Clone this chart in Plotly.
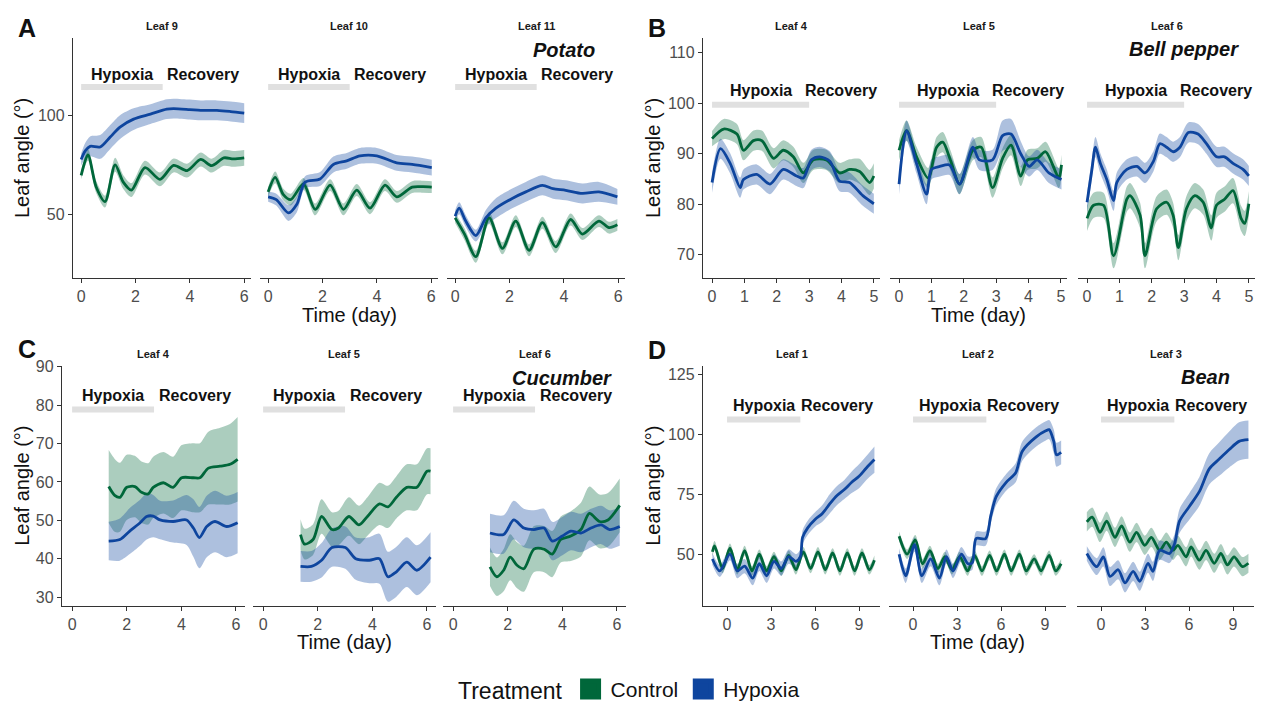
import plotly.graph_objects as go

W, H = 1261, 710

# ---------------- data ----------------
treatments = ["Control", "Hypoxia"]
group_letters = ["A", "B", "C", "D"]
species = ["Potato", "Bell pepper", "Cucumber", "Bean"]
leaf_names = [["Leaf 9", "Leaf 10", "Leaf 11"],
              ["Leaf 4", "Leaf 5", "Leaf 6"],
              ["Leaf 4", "Leaf 5", "Leaf 6"],
              ["Leaf 1", "Leaf 2", "Leaf 3"]]
hypoxia_end = [3, 3, 3, 5]
recovery_end = [6, 5, 6, 10]
x_ticks = [[0, 2, 4, 6], [0, 1, 2, 3, 4, 5], [0, 2, 4, 6], [0, 3, 6, 9]]
y_ticks = [[50, 100], [70, 80, 90, 100, 110], [30, 40, 50, 60, 70, 80, 90], [50, 75, 100, 125]]

# Potato
a1_ctrl_x = [0, 0.25, 0.55, 0.88, 1.25, 1.55, 1.85, 2.35, 2.9, 3.4, 3.9, 4.4, 4.8, 5.25, 5.6, 6.0]
a1_ctrl_y = [69.7, 80, 64, 56.5, 75, 66.3, 62.3, 73.6, 67.7, 74.7, 72.1, 77.7, 74.6, 78.5, 78, 78.5]
a1_ctrl_sd = [2, 3, 3, 3, 3.5, 3.5, 3.5, 3.5, 3.5, 3.5, 3.5, 3.5, 3.5, 4, 4, 4]
a1_hyp_x = [0, 0.15, 0.33, 0.7, 1.07, 1.43, 1.93, 2.55, 3.15, 3.4, 4.0, 4.4, 5.0, 5.5, 6.0]
a1_hyp_y = [77.7, 82, 84.3, 84, 89, 94, 98, 100.5, 103, 103.3, 102.8, 102.4, 102.4, 101.8, 101]
a1_hyp_sd = [3, 4, 5, 6, 6, 6, 5.5, 5, 5, 5, 5, 5, 5, 5, 5]

a2_ctrl_x = [0, 0.26, 0.56, 0.83, 1.3, 1.73, 2.28, 2.77, 3.26, 3.75, 4.3, 4.73, 5.3, 5.7, 6.02]
a2_ctrl_y = [61.4, 68.7, 60, 57.5, 65.4, 52.6, 64.8, 52.6, 62.3, 53.2, 64.8, 58.9, 63.8, 64, 63.8]
a2_ctrl_sd = [2.5, 3, 3, 3, 3, 3, 3, 3, 3, 3, 3, 3, 3, 3, 3]
a2_hyp_x = [0, 0.3, 0.75, 1.05, 1.36, 1.91, 2.4, 2.89, 3.38, 4.0, 4.73, 5.3, 6.02]
a2_hyp_y = [58.9, 57.5, 50.8, 55, 66.3, 67.9, 75.2, 77, 79.5, 79.5, 76, 75.2, 73.6]
a2_hyp_sd = [2.5, 3, 4, 4, 3, 3.5, 4, 4, 4, 4, 4, 4, 4]

a3_ctrl_x = [0, 0.35, 0.76, 1.25, 1.74, 2.23, 2.72, 3.21, 3.7, 4.25, 4.68, 5.29, 5.66, 5.97]
a3_ctrl_y = [48.3, 40, 28.8, 48.3, 33, 46.7, 32, 45.9, 33.7, 47.5, 40.2, 46.7, 43.4, 44.8]
a3_ctrl_sd = [2.5, 3, 3, 3, 3, 3, 3, 3, 3, 3, 3, 3, 3, 3]
a3_hyp_x = [0, 0.15, 0.39, 0.76, 1.13, 1.5, 2.1, 2.6, 3.21, 3.6, 4.07, 4.68, 5.29, 5.97]
a3_hyp_y = [49.2, 53.2, 46.7, 39.4, 48.3, 53.2, 58.1, 61.4, 64.7, 63, 62.2, 60.6, 61.4, 58.9]
a3_hyp_sd = [3, 3, 3, 3, 4, 5, 5, 5, 5, 5, 5, 5, 5, 4]

# Bell pepper
b1_ctrl_x = [0, 0.36, 0.77, 0.97, 1.28, 1.54, 1.9, 2.2, 2.51, 2.82, 3.13, 3.53, 3.94, 4.25, 4.56, 4.87, 5.0]
b1_ctrl_y = [93, 94.9, 93.9, 90.7, 92.6, 92.6, 89.1, 90.7, 89.4, 86.2, 88.8, 88.8, 86.2, 86.9, 86.5, 84.3, 85.6]
b1_ctrl_sd = [1.5, 2, 2, 2, 2, 2, 2, 2, 2, 2, 2, 2, 2, 2, 2.5, 2.5, 2.5]
b1_hyp_x = [0, 0.26, 0.56, 0.87, 0.97, 1.38, 1.79, 2.2, 2.61, 2.82, 3.07, 3.33, 3.64, 3.94, 4.25, 4.66, 5.0]
b1_hyp_y = [84.3, 91, 88.1, 83.3, 84.9, 85.9, 84, 86.9, 85.6, 85.2, 88.8, 89.4, 88.5, 84.6, 84.3, 81.7, 80.1]
b1_hyp_sd = [2, 2, 2, 2, 2, 2, 2, 2, 2, 2, 2, 2, 2, 2, 2, 2, 2]

b2_ctrl_x = [0, 0.23, 0.54, 0.9, 1.16, 1.35, 1.6, 1.87, 2.28, 2.54, 2.89, 3.2, 3.46, 3.76, 3.97, 4.27, 4.53, 4.94, 5.02]
b2_ctrl_y = [90.7, 94.6, 89.4, 85.2, 91.3, 92.3, 88.5, 84, 90.7, 91.3, 83.3, 89.1, 91.7, 85.6, 88.8, 89.1, 90.4, 85.2, 87.8]
b2_ctrl_sd = [2, 2, 2, 2, 2, 2, 2, 2, 2, 2, 2, 2, 2, 2, 2, 2, 2, 2, 2]
b2_hyp_x = [0, 0.23, 0.54, 0.85, 1.0, 1.26, 1.56, 1.87, 2.28, 2.48, 2.89, 3.2, 3.46, 3.76, 4.02, 4.27, 4.63, 5.02]
b2_hyp_y = [84, 94.6, 88.1, 82, 86.9, 87.5, 87.8, 84, 91.3, 88.8, 88.8, 93.6, 93.9, 90, 87.5, 88.8, 86.2, 84.9]
b2_hyp_sd = [2, 2, 2, 2, 2, 2, 2, 2, 2, 2, 2, 3, 3, 2.5, 2, 2, 2, 2]

b3_ctrl_x = [0, 0.2, 0.51, 0.82, 1.23, 1.33, 1.64, 1.79, 2.15, 2.46, 2.66, 2.82, 3.07, 3.33, 3.59, 3.84, 4.0, 4.25, 4.51, 4.76, 4.87, 5.0]
b3_ctrl_y = [77.2, 79.8, 79.8, 69.8, 81, 81.7, 77.8, 69.8, 79.1, 80.4, 77.8, 71.4, 79.1, 81.7, 80.4, 75.3, 79.8, 81, 82.7, 77.2, 76.2, 80.1]
b3_ctrl_sd = [2.5] * 22
b3_hyp_x = [0, 0.15, 0.26, 0.41, 0.61, 0.82, 0.92, 1.23, 1.54, 1.79, 2.05, 2.25, 2.46, 2.66, 2.87, 3.13, 3.43, 3.69, 4.0, 4.25, 4.51, 4.82, 5.0]
b3_hyp_y = [80.4, 86.9, 91.3, 88.1, 84.9, 80.7, 84.3, 86.9, 87.5, 86.2, 88.5, 92, 91.3, 90.4, 91.3, 94.2, 93.9, 92, 89.4, 89.4, 88.1, 86.9, 85.6]
b3_hyp_sd = [2] * 23

# Cucumber
c1_ctrl_x = [1.34, 1.56, 1.75, 2.0, 2.3, 2.54, 2.79, 2.97, 3.34, 3.7, 4.01, 4.44, 4.68, 4.99, 5.42, 5.78, 6.06]
c1_ctrl_y = [58.8, 56.5, 56, 58.6, 58.8, 57.3, 56.9, 58.6, 59.8, 58.6, 61.1, 61.1, 61.1, 63.6, 64.1, 64.6, 65.9]
c1_ctrl_sd = [9.5, 9.5, 9, 8.5, 8, 8, 8, 8, 8, 8, 8.5, 9, 9, 9.5, 10, 10.5, 11]
c1_hyp_x = [1.34, 1.75, 2.11, 2.48, 2.73, 2.97, 3.22, 3.7, 4.19, 4.44, 4.66, 4.93, 5.23, 5.66, 6.06]
c1_hyp_y = [44.6, 45, 47.2, 49.3, 51, 51.1, 50.1, 49.7, 50.1, 48, 45.5, 48.4, 49.7, 48.4, 49.4]
c1_hyp_sd = [5, 5.5, 6, 6, 6, 5.5, 5, 5.5, 6.5, 7.5, 8, 8, 8, 8, 8]

c2_ctrl_x = [1.37, 1.52, 1.83, 2.14, 2.52, 2.76, 3.14, 3.51, 3.82, 4.26, 4.57, 4.88, 5.26, 5.63, 6.0, 6.13]
c2_ctrl_y = [46.3, 43.8, 45, 51, 47.6, 48, 51, 48.8, 51, 54.3, 53.5, 56, 58.6, 58.6, 62.8, 62.8]
c2_ctrl_sd = [4, 4, 4, 4.5, 4.5, 4.5, 5, 5, 5, 5.5, 5.5, 5.5, 6, 6, 6, 6]
c2_hyp_x = [1.37, 1.77, 2.14, 2.52, 3.01, 3.39, 3.89, 4.26, 4.57, 4.88, 5.26, 5.63, 6.13]
c2_hyp_y = [38, 38, 39.6, 42.9, 42.9, 40, 39.6, 40, 35.3, 36.6, 39.1, 37, 40.4]
c2_hyp_sd = [4, 4, 4.5, 5, 5.5, 5.5, 6, 6.5, 6.5, 6.5, 6.5, 6.5, 6.5]

c3_ctrl_x = [1.35, 1.6, 1.85, 2.09, 2.34, 2.59, 2.96, 3.33, 3.63, 3.94, 4.31, 4.68, 4.99, 5.36, 5.67, 6.1]
c3_ctrl_y = [37.9, 35.3, 37, 40.4, 38.3, 37.4, 42.5, 42.5, 41.2, 45, 45.9, 47.6, 51.8, 49.7, 50.1, 53.9]
c3_ctrl_sd = [5, 5, 5.5, 6, 6, 6, 6, 6, 6, 6, 6.5, 7, 7, 7, 7, 7]
c3_hyp_x = [1.35, 1.85, 2.22, 2.59, 2.96, 3.33, 3.63, 4.0, 4.31, 4.68, 5.05, 5.42, 5.73, 6.1]
c3_hyp_y = [46.7, 46.3, 50.1, 48, 47.6, 48, 44.6, 45.9, 47.2, 46.7, 48, 48.8, 47.6, 48.4]
c3_hyp_sd = [5] * 14

# Bean
d1_ctrl_x = [-1.0, -0.85, -0.3, 0.2, 0.7, 1.2, 1.7, 2.2, 2.7, 3.2, 3.7, 4.2, 4.7, 5.2, 5.7, 6.2, 6.7, 7.2, 7.7, 8.2, 8.7, 9.2, 9.7, 10.05]
d1_ctrl_y = [51, 53.5, 44, 52.5, 43.5, 51.5, 43, 50, 43, 49, 43, 49.5, 43.5, 51, 44, 51, 43.5, 50.5, 43, 50.5, 43, 50.5, 43.5, 47.5]
d1_ctrl_sd = [2] * 24
d1_hyp_x = [-1.0, -0.5, 0.2, 0.7, 1.2, 1.75, 2.2, 2.7, 3.2, 3.7, 4.2, 4.7, 5.0, 5.15, 5.5, 6.0, 6.5, 7.0, 7.5, 8.0, 8.5, 9.0, 9.5, 10.05]
d1_hyp_y = [48, 43, 50, 43, 45, 40, 46, 41, 47, 44, 49, 47, 49, 57, 61, 64.5, 67, 71, 74.5, 77, 80, 82.5, 86, 89.5]
d1_hyp_sd = [2.5, 2.5, 2.5, 3, 3, 3, 3, 3, 3, 3, 3, 3, 3, 3, 3, 3, 3.5, 4, 4, 4, 4.5, 5, 5, 5.5]

d2_ctrl_x = [-0.95, -0.4, 0.15, 0.65, 1.15, 1.7, 2.17, 2.65, 3.18, 3.72, 4.2, 4.7, 5.22, 5.7, 6.23, 6.7, 7.25, 7.72, 8.26, 8.73, 9.28, 9.73, 10.1]
d2_ctrl_y = [57.5, 50, 56, 46, 51.5, 44, 49, 43.5, 49, 43, 49.5, 43, 49.5, 43, 50, 43, 50, 43, 48, 43, 49.5, 43, 46]
d2_ctrl_sd = [2] * 23
d2_hyp_x = [-0.95, -0.5, 0.1, 0.6, 1.2, 1.8, 2.28, 2.73, 3.3, 3.75, 4.05, 4.3, 4.95, 5.3, 5.67, 6.35, 7.0, 7.45, 8.4, 9.05, 9.28, 9.6, 9.78, 10.1]
d2_hyp_y = [50, 41, 54, 41, 48, 40, 49, 43, 50, 46, 46.5, 56.5, 56.5, 66, 74, 80, 84, 93, 99, 101.5, 102, 97, 91.5, 92.5]
d2_hyp_sd = [2.5, 3, 3, 3, 3, 3, 3, 3, 3, 3, 3, 3, 3, 3, 3.5, 3.5, 4, 4, 4, 4, 4, 5, 5, 5]

d3_ctrl_x = [-0.97, -0.6, -0.07, 0.38, 0.95, 1.4, 1.96, 2.42, 2.98, 3.43, 4.0, 4.45, 4.9, 5.24, 5.8, 6.14, 6.7, 7.16, 7.72, 8.17, 8.62, 9.07, 9.64, 10.05]
d3_ctrl_y = [63.5, 65.5, 59.1, 63.8, 57, 61.8, 55, 59.1, 53.7, 57, 51.6, 55, 51.6, 53.7, 48.9, 53, 47.5, 51.6, 46.2, 50.3, 45.5, 48.9, 44.8, 46.2]
d3_ctrl_sd = [4] * 24
d3_hyp_x = [-0.97, -0.3, 0.16, 0.61, 1.17, 1.63, 2.19, 2.64, 3.2, 3.54, 4.0, 4.67, 5.01, 5.35, 6.03, 6.7, 7.38, 8.06, 8.74, 9.41, 10.05]
d3_hyp_y = [50.3, 44.8, 48.9, 40.7, 43.5, 38, 42.8, 38.7, 46.2, 42.8, 51.6, 50.3, 54.3, 63.8, 70, 76.1, 85.6, 89.7, 93.7, 97.1, 97.8]
d3_hyp_sd = [3, 3.5, 4, 4, 4, 4, 4, 4, 4, 4, 4, 4, 4, 5, 5.5, 6, 6.5, 7, 7.5, 8, 8]

panel_data = [
    [(a1_ctrl_x, a1_ctrl_y, a1_ctrl_sd, a1_hyp_x, a1_hyp_y, a1_hyp_sd),
     (a2_ctrl_x, a2_ctrl_y, a2_ctrl_sd, a2_hyp_x, a2_hyp_y, a2_hyp_sd),
     (a3_ctrl_x, a3_ctrl_y, a3_ctrl_sd, a3_hyp_x, a3_hyp_y, a3_hyp_sd)],
    [(b1_ctrl_x, b1_ctrl_y, b1_ctrl_sd, b1_hyp_x, b1_hyp_y, b1_hyp_sd),
     (b2_ctrl_x, b2_ctrl_y, b2_ctrl_sd, b2_hyp_x, b2_hyp_y, b2_hyp_sd),
     (b3_ctrl_x, b3_ctrl_y, b3_ctrl_sd, b3_hyp_x, b3_hyp_y, b3_hyp_sd)],
    [(c1_ctrl_x, c1_ctrl_y, c1_ctrl_sd, c1_hyp_x, c1_hyp_y, c1_hyp_sd),
     (c2_ctrl_x, c2_ctrl_y, c2_ctrl_sd, c2_hyp_x, c2_hyp_y, c2_hyp_sd),
     (c3_ctrl_x, c3_ctrl_y, c3_ctrl_sd, c3_hyp_x, c3_hyp_y, c3_hyp_sd)],
    [(d1_ctrl_x, d1_ctrl_y, d1_ctrl_sd, d1_hyp_x, d1_hyp_y, d1_hyp_sd),
     (d2_ctrl_x, d2_ctrl_y, d2_ctrl_sd, d2_hyp_x, d2_hyp_y, d2_hyp_sd),
     (d3_ctrl_x, d3_ctrl_y, d3_ctrl_sd, d3_hyp_x, d3_hyp_y, d3_hyp_sd)],
]

# ---------------- layout settings (pixels) ----------------
FONT = "Liberation Sans, Arial, Helvetica, sans-serif"
GREEN = "#00673A"
BLUE = "#0E459E"
GREEN_FILL = "rgba(0,103,58,0.33)"
BLUE_FILL = "rgba(14,69,158,0.34)"
AXIS_COL = "#333333"
TICK_COL = "#4D4D4D"

x_domains_px = [[(73, 251), (260, 438), (447, 625)],
                [(703, 880), (890, 1067), (1078, 1255)],
                [(62, 245), (253, 436), (443, 626)],
                [(703, 880), (889, 1066), (1077, 1254)]]
y_domain_px = [(32, 278), (32, 278), (368, 614.5), (368, 614.5)]
x_ranges = [[-0.3, 6.25], [-0.28, 5.19], [-0.37, 6.33], [-1.64, 10.43]]
y_ranges = [[18.1, 138.7], [65.4, 112.9], [27.7, 90.3], [28.4, 128.7]]
bar_y = [114.2, 99.7, 78.9, 106.2]
label_y = [120.2, 102.6, 82.4, 112.0]
species_pos = [(4.0, 132.7), (3.0, 110.7), (4.0, 87.2), (7.1, 123.8)]
letter_pos = [(27, 22), (657, 22), (27, 351), (657, 352)]
leaf_label_py = [20, 20, 356, 356]
xtitle_py = [316, 316, 652, 652]
ytitle_px = [22, 653, 22, 653]


def px_x(p):
    return p / W


def px_y(p):
    return 1 - p / H


def ann(**kw):
    d = dict(showarrow=False, xanchor="center", yanchor="middle")
    d.update(kw)
    return d


fig = go.Figure()
layout = dict(width=W, height=H, margin=dict(l=0, r=0, t=0, b=0),
              paper_bgcolor="white", plot_bgcolor="white",
              font=dict(family=FONT, color="#1A1A1A"))
annotations = []
shapes = []

for gi in range(4):
    ytop, ybot = y_domain_px[gi]
    for pi in range(3):
        n = gi * 3 + pi + 1
        xs = "x" if n == 1 else f"x{n}"
        ys = "y" if n == 1 else f"y{n}"
        xa = "xaxis" if n == 1 else f"xaxis{n}"
        ya = "yaxis" if n == 1 else f"yaxis{n}"
        x0, x1 = x_domains_px[gi][pi]
        layout[xa] = dict(domain=[px_x(x0), px_x(x1)], range=x_ranges[gi], anchor=ys,
                          tickvals=x_ticks[gi], showline=True, linecolor=AXIS_COL, linewidth=1.3,
                          ticks="outside", ticklen=4, tickcolor=AXIS_COL, tickwidth=1.2,
                          tickfont=dict(size=16, color=TICK_COL, family=FONT),
                          showgrid=False, zeroline=False, fixedrange=True)
        first = pi == 0
        layout[ya] = dict(domain=[px_y(ybot), px_y(ytop)], range=y_ranges[gi], anchor=xs,
                          tickvals=y_ticks[gi], showline=first, linecolor=AXIS_COL, linewidth=1.3,
                          ticks="outside" if first else "", ticklen=4, tickcolor=AXIS_COL, tickwidth=1.2,
                          showticklabels=first,
                          tickfont=dict(size=16, color=TICK_COL, family=FONT),
                          showgrid=False, zeroline=False, fixedrange=True)

        cx, cy, csd, hx, hy, hsd = panel_data[gi][pi]
        series = [(cx, cy, csd, GREEN, GREEN_FILL, treatments[0]),
                  (hx, hy, hsd, BLUE, BLUE_FILL, treatments[1])]
        # ribbons
        for sx, sy, ssd, col, fcol, name in series:
            lo = [v - s for v, s in zip(sy, ssd)]
            hi = [v + s for v, s in zip(sy, ssd)]
            fig.add_trace(go.Scatter(x=sx, y=lo, xaxis=xs, yaxis=ys, mode="lines",
                                     line=dict(width=0, shape="spline", smoothing=0.8, color=fcol),
                                     showlegend=False, hoverinfo="skip"))
            fig.add_trace(go.Scatter(x=sx, y=hi, xaxis=xs, yaxis=ys, mode="lines",
                                     line=dict(width=0, shape="spline", smoothing=0.8, color=fcol),
                                     fill="tonexty", fillcolor=fcol,
                                     showlegend=False, hoverinfo="skip"))
        # mean lines
        for sx, sy, ssd, col, fcol, name in series:
            fig.add_trace(go.Scatter(x=sx, y=sy, xaxis=xs, yaxis=ys, mode="lines",
                                     line=dict(width=2.8, color=col, shape="spline", smoothing=0.8),
                                     name=name, showlegend=False))

        # hypoxia bar and period labels
        shapes.append(dict(type="line", xref=xs, yref=ys, x0=0, x1=hypoxia_end[gi],
                           y0=bar_y[gi], y1=bar_y[gi], line=dict(color="#E0E0E0", width=6),
                           layer="below"))
        annotations.append(ann(x=hypoxia_end[gi] / 2, y=label_y[gi], xref=xs, yref=ys,
                               text="<b>Hypoxia</b>",
                               font=dict(size=16, color="#111111", family=FONT)))
        annotations.append(ann(x=(hypoxia_end[gi] + recovery_end[gi]) / 2, y=label_y[gi],
                               xref=xs, yref=ys, text="<b>Recovery</b>",
                               font=dict(size=16, color="#111111", family=FONT)))
        # leaf label
        annotations.append(ann(x=px_x((x0 + x1) / 2), y=px_y(leaf_label_py[gi]),
                               xref="paper", yref="paper", text=f"<b>{leaf_names[gi][pi]}</b>",
                               font=dict(size=11, color="#1A1A1A", family=FONT)))
        if pi == 2:
            sxp, syp = species_pos[gi]
            annotations.append(ann(x=sxp, y=syp, xref=xs, yref=ys,
                                   text=f"<b><i>{species[gi]}</i></b>",
                                   font=dict(size=20, color="#111111", family=FONT)))

    # group letter, axis titles
    lx, ly = letter_pos[gi]
    annotations.append(ann(x=px_x(lx), y=px_y(ly), xref="paper", yref="paper",
                           text=f"<b>{group_letters[gi]}</b>",
                           font=dict(size=25, color="#111111", family=FONT)))
    annotations.append(ann(x=px_x(ytitle_px[gi]), y=px_y((ytop + ybot) / 2), xref="paper",
                           yref="paper", text="Leaf angle (°)", textangle=-90,
                           font=dict(size=20, color="#111111", family=FONT)))
    mx0, mx1 = x_domains_px[gi][1]
    annotations.append(ann(x=px_x((mx0 + mx1) / 2), y=px_y(xtitle_py[gi]), xref="paper",
                           yref="paper", text="Time (day)",
                           font=dict(size=20, color="#111111", family=FONT)))

# legend entries
for name, col in zip(treatments, [GREEN, BLUE]):
    fig.add_trace(go.Scatter(x=[None], y=[None], mode="markers", name=name,
                             marker=dict(symbol="square", size=16, color=col,
                                         line=dict(color=col, width=5)),
                             showlegend=True))

layout["legend"] = dict(orientation="h", x=0.5, xanchor="center", y=px_y(700), yanchor="middle",
                        traceorder="normal",
                        title=dict(text="Treatment", side="left",
                                   font=dict(size=23, color="#111111", family=FONT)),
                        font=dict(size=21, color="#111111", family=FONT),
                        bgcolor="rgba(0,0,0,0)", itemsizing="trace")
layout["annotations"] = annotations
layout["shapes"] = shapes
fig.update_layout(**layout)
fig.write_html("out.html", config={"displayModeBar": False},
               post_script="document.body.style.margin='0px';")
